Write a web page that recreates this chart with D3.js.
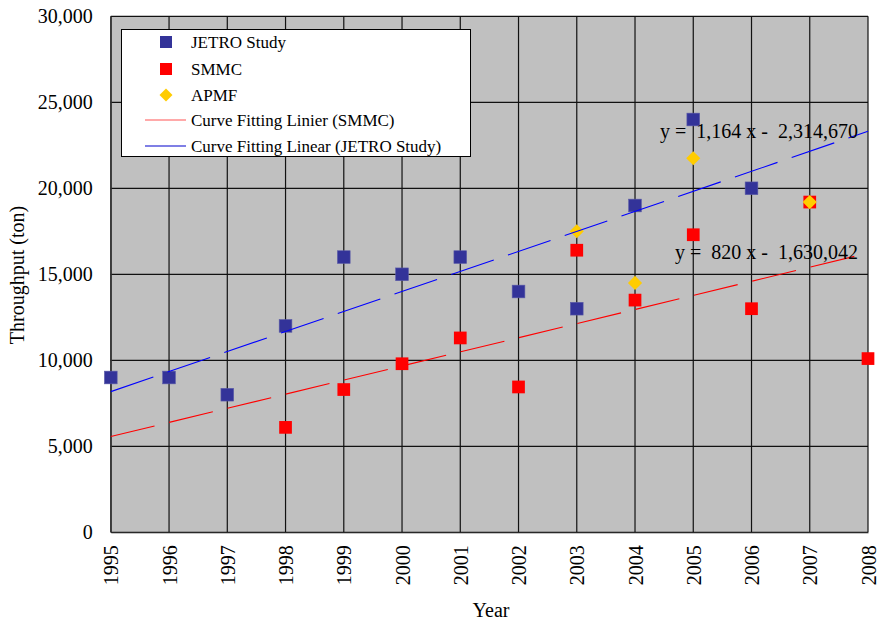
<!DOCTYPE html>
<html><head><meta charset="utf-8">
<script src="https://cdn.jsdelivr.net/npm/d3@7"></script>
<style>body{margin:0;background:#fff}text{font-family:"Liberation Serif","Times New Roman",serif;fill:#000}</style>
</head><body>
<svg id="c" width="877" height="623"></svg>
<script>
const years = [1995,1996,1997,1998,1999,2000,2001,2002,2003,2004,2005,2006,2007,2008];
const yTicks = [0,5000,10000,15000,20000,25000,30000];
const jetroYears = [1995,1996,1997,1998,1999,2000,2001,2002,2003,2004,2005,2006];
const jetroValues = [9000,9000,8000,12000,16000,15000,16000,14000,13000,19000,24000,20000];
const smmcYears = [1998,1999,2000,2001,2002,2003,2004,2005,2006,2007,2008];
const smmcValues = [6100,8300,9800,11300,8450,16400,13500,17300,13000,19200,10100];
const apmfYears = [2003,2004,2005,2007];
const apmfValues = [17500,14500,21750,19200];
const legendLabels = ["JETRO Study","SMMC","APMF","Curve Fitting Linier (SMMC)","Curve Fitting Linear (JETRO Study)"];
const eqJetro = "y =  1,164 x -  2,314,670";
const eqSmmc = "y =  820 x -  1,630,042";

const svg = d3.select("#c");
const x = d3.scaleLinear().domain([1995,2008]).range([110.8,868]);
const y = d3.scaleLinear().domain([0,30000]).range([532.3,16.3]);

// plot background
svg.append("rect").attr("x",x(1995)).attr("y",y(30000)).attr("width",x(2008)-x(1995)).attr("height",y(0)-y(30000)).attr("fill","#C0C0C0");

// grid
const g = svg.append("g");
g.selectAll("line.h").data(yTicks).join("line").attr("x1",x(1995)).attr("x2",x(2008)).attr("y1",d=>y(d)).attr("y2",d=>y(d)).attr("stroke","#111").attr("stroke-width",1.2);
g.selectAll("line.v").data(years).join("line").attr("x1",d=>x(d)).attr("x2",d=>x(d)).attr("y1",y(0)).attr("y2",y(30000)).attr("stroke","#111").attr("stroke-width",1.2);

// axes
const yAxis = d3.axisLeft(y).tickValues(yTicks).tickSize(0).tickPadding(18).tickFormat(d3.format(","));
const ya = svg.append("g").attr("transform",`translate(${x(1995)},0)`).call(yAxis);
ya.select(".domain").attr("stroke","#333");
ya.selectAll("text").style("font-family","Liberation Serif").style("font-size","20px").attr("fill","#000");

const xAxis = d3.axisBottom(x).tickValues(years).tickSize(0).tickFormat(d3.format("d"));
const xa = svg.append("g").attr("transform",`translate(0,${y(0)})`).call(xAxis);
xa.select(".domain").attr("stroke","#333");
xa.selectAll("text").style("font-family","Liberation Serif").style("font-size","20px").attr("fill","#000")
  .attr("transform","rotate(-90)").attr("text-anchor","end").attr("x",-13).attr("y",0).attr("dy","0.35em");

// markers
const sq = 12.7;
svg.append("g").selectAll("rect").data(jetroYears.map((d,i)=>[d,jetroValues[i]])).join("rect")
  .attr("x",d=>x(d[0])-sq/2).attr("y",d=>y(d[1])-sq/2).attr("width",sq).attr("height",sq).attr("fill","#333399").attr("stroke","#5a5aa8").attr("stroke-width",0.6);
svg.append("g").selectAll("rect").data(smmcYears.map((d,i)=>[d,smmcValues[i]])).join("rect")
  .attr("x",d=>x(d[0])-sq/2).attr("y",d=>y(d[1])-sq/2).attr("width",sq).attr("height",sq).attr("fill","#FF0000");
const diamond = d3.symbol().type(d3.symbolSquare).size(100);
svg.append("g").selectAll("path").data(apmfYears.map((d,i)=>[d,apmfValues[i]])).join("path")
  .attr("d",diamond).attr("transform",d=>`translate(${x(d[0])},${y(d[1])}) rotate(45)`).attr("fill","#FFCC00");

// linear fits
function fit(xs, ys){
  const mx=d3.mean(xs), my=d3.mean(ys);
  const b=d3.sum(xs.map((v,i)=>(v-mx)*(ys[i]-my)))/d3.sum(xs.map(v=>(v-mx)**2));
  return v=>my+b*(v-mx);
}
const fj = fit(jetroYears,jetroValues), fs = fit(smmcYears,smmcValues);
const line = d3.line().x(d=>x(d[0])).y(d=>y(d[1]));
svg.append("path").attr("d",line([[1995,fj(1995)],[2008,fj(2008)]])).attr("stroke","#0000FF").attr("stroke-width",1.1).attr("fill","none").attr("stroke-dasharray","45,15");
svg.append("path").attr("d",line([[1995,fs(1995)],[2008,fs(2008)]])).attr("stroke","#FF0000").attr("stroke-width",1.1).attr("fill","none").attr("stroke-dasharray","45,15");

// equations
svg.append("text").attr("x",858).attr("y",138).attr("text-anchor","end").style("font-size","20px").style("white-space","pre").text(eqJetro);
svg.append("text").attr("x",858).attr("y",259).attr("text-anchor","end").style("font-size","20px").style("white-space","pre").text(eqSmmc);

// legend
const lg = svg.append("g");
lg.append("rect").attr("x",121.5).attr("y",29.5).attr("width",349).attr("height",127).attr("fill","#fff").attr("stroke","#000").attr("stroke-width",1);
const rowsY = [42,69,95,120,146];
lg.append("rect").attr("x",166-6).attr("y",rowsY[0]-6).attr("width",12).attr("height",12).attr("fill","#333399");
lg.append("rect").attr("x",166-6).attr("y",rowsY[1]-6).attr("width",12).attr("height",12).attr("fill","#FF0000");
lg.append("path").attr("d",d3.symbol().type(d3.symbolSquare).size(84)).attr("transform",`translate(166,${rowsY[2]}) rotate(45)`).attr("fill","#FFCC00");
lg.append("line").attr("x1",145).attr("x2",186).attr("y1",rowsY[3]).attr("y2",rowsY[3]).attr("stroke","#FF5555").attr("stroke-width",1.2);
lg.append("line").attr("x1",145).attr("x2",186).attr("y1",rowsY[4]).attr("y2",rowsY[4]).attr("stroke","#0000CC").attr("stroke-width",1.2);
lg.selectAll("text").data(legendLabels).join("text").attr("x",191).attr("y",(d,i)=>rowsY[i]).attr("dy","0.35em").style("font-size","17px").text(d=>d);

// axis titles
svg.append("text").attr("transform","translate(24,275) rotate(-90)").attr("text-anchor","middle").style("font-size","20px").text("Throughput (ton)");
svg.append("text").attr("x",491).attr("y",617).attr("text-anchor","middle").style("font-size","20px").text("Year");
</script>
</body></html>
